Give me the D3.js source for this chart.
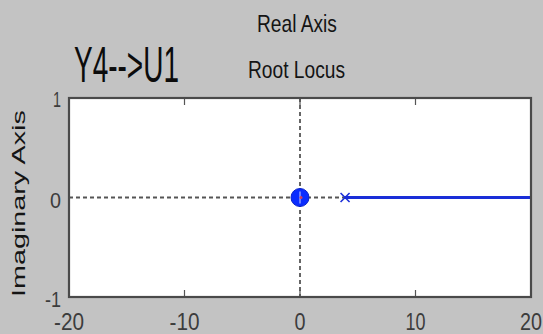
<!DOCTYPE html>
<html>
<head>
<meta charset="utf-8">
<script src="https://cdn.jsdelivr.net/npm/d3@7"></script>
<style>
  html, body { margin: 0; padding: 0; background: #c3c3c3; }
  svg { display: block; }
  text { font-family: "Liberation Sans", Arial, sans-serif; }
</style>
</head>
<body>
<svg id="chart" width="543" height="334"></svg>
<script>
// Root locus of the Y4 -> U1 channel
const xTicks = [-20, -10, 0, 10, 20];
const yTicks = [-1, 0, 1];
const zeros = [[0, 0]];             // open-loop zero (re, im)
const poles = [[3.9, 0]];           // open-loop pole (re, im)
const branch = [[3.9, 0], [20, 0]]; // locus branch along the real axis

const W = 543, H = 334;
const margin = { left: 69, right: 12, top: 98, bottom: 37 };
const svg = d3.select("#chart");

const x = d3.scaleLinear().domain([-20, 20]).range([margin.left, W - margin.right]);
const y = d3.scaleLinear().domain([-1, 1]).range([H - margin.bottom, margin.top]);

// Condensed label: drawn at (px, py), squeezed horizontally to `width` pixels.
// anchor: "start" | "middle" | "end"; rot rotates the whole label (degrees).
function condensed(parent, txt, px, py, width, size, fill, anchor = "start", rot = 0) {
  const g = parent.append("g");
  const t = g.append("text").attr("font-size", size).attr("fill", fill).text(txt);
  const natural = t.node().getComputedTextLength();
  const sx = width / natural;
  const off = anchor === "middle" ? -width / 2 : anchor === "end" ? -width : 0;
  g.attr("transform", `translate(${px},${py}) rotate(${rot}) translate(${off},0) scale(${sx},1)`);
  return g;
}

// plot background
svg.append("rect")
  .attr("x", x(-20)).attr("y", y(1))
  .attr("width", x(20) - x(-20)).attr("height", y(-1) - y(1))
  .attr("fill", "#ffffff");

// inward ticks
const tickLen = 7;
const tickG = svg.append("g").attr("stroke", "#555").attr("stroke-width", 1.2);
tickG.selectAll("line.b").data(xTicks.slice(1, -1)).join("line").attr("class", "b")
  .attr("x1", d => x(d)).attr("x2", d => x(d))
  .attr("y1", y(-1)).attr("y2", y(-1) - tickLen);
tickG.selectAll("line.t").data(xTicks.slice(1, -1)).join("line").attr("class", "t")
  .attr("x1", d => x(d)).attr("x2", d => x(d))
  .attr("y1", y(1)).attr("y2", y(1) + tickLen);

// dashed reference axes
svg.append("line")
  .attr("x1", x(-20)).attr("x2", x(20)).attr("y1", y(0)).attr("y2", y(0))
  .attr("stroke", "#555").attr("stroke-width", 1.8).attr("stroke-dasharray", "4,3");
svg.append("line")
  .attr("x1", x(0)).attr("x2", x(0)).attr("y1", y(1)).attr("y2", y(-1))
  .attr("stroke", "#555").attr("stroke-width", 1.8).attr("stroke-dasharray", "4,3");

// locus branch
svg.append("path")
  .datum(branch)
  .attr("d", d3.line().x(d => x(d[0])).y(d => y(d[1])))
  .attr("fill", "none").attr("stroke", "#1a2ed8").attr("stroke-width", 3);

// zero marker
svg.append("g").selectAll("circle").data(zeros).join("circle")
  .attr("cx", d => x(d[0])).attr("cy", d => y(d[1])).attr("r", 9)
  .attr("fill", "#0a2cff").attr("stroke", "#0820c8").attr("stroke-width", 1);
svg.append("g").selectAll("line").data(zeros).join("line")
  .attr("x1", d => x(d[0])).attr("x2", d => x(d[0]))
  .attr("y1", d => y(d[1]) - 6).attr("y2", d => y(d[1]) + 6)
  .attr("stroke", "#8c9cff").attr("stroke-width", 1.5);
svg.append("g").selectAll("circle").data(zeros).join("circle")
  .attr("cx", d => x(d[0]) + 1).attr("cy", d => y(d[1])).attr("r", 1.5)
  .attr("fill", "#d04060");

// pole marker
const ps = 4.5;
const poleG = svg.append("g").selectAll("g").data(poles).join("g")
  .attr("transform", d => `translate(${x(d[0])},${y(d[1])})`)
  .attr("stroke", "#1a2ed8").attr("stroke-width", 1.6);
poleG.append("line").attr("x1", -ps).attr("y1", -ps).attr("x2", ps).attr("y2", ps);
poleG.append("line").attr("x1", -ps).attr("y1", ps).attr("x2", ps).attr("y2", -ps);

// frame
svg.append("rect")
  .attr("x", x(-20)).attr("y", y(1))
  .attr("width", x(20) - x(-20)).attr("height", y(-1) - y(1))
  .attr("fill", "none").attr("stroke", "#4a4a4a").attr("stroke-width", 2.2);

// tick labels
const xLabelW = { "-20": 30, "-10": 30, "0": 11, "10": 20, "20": 22 };
const xAxisG = svg.append("g");
xTicks.forEach(d => {
  const w = xLabelW[d];
  const cx = Math.min(x(d), W - 1 - w / 2);
  condensed(xAxisG, String(d), cx, 330, w, 24, "#3c3c3c", "middle");
});

const yLabelW = { "-1": 16, "0": 11, "1": 8 };
const yLabelBase = { "-1": 307, "0": 208, "1": 107 };
const yAxisG = svg.append("g");
yTicks.forEach(d => {
  condensed(yAxisG, String(d), 61, yLabelBase[d], yLabelW[d], 22, "#3c3c3c", "end");
});

// titles
condensed(svg, "Real Axis", 257, 32, 80, 24, "#141414");
condensed(svg, "Root Locus", 248, 78, 97, 24, "#141414");
condensed(svg, "Y4-->U1", 74, 82, 105, 50, "#0c0c0c");
condensed(svg, "Imaginary Axis", 25, 297, 187, 18, "#141414", "start", -90);
</script>
</body>
</html>
